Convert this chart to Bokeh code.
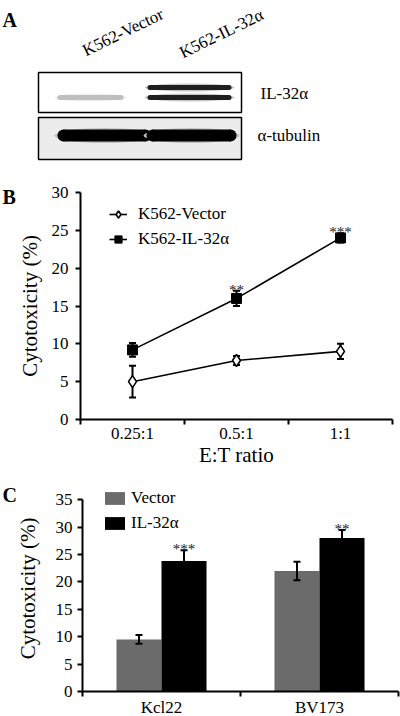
from bokeh.plotting import figure
from bokeh.models import (Range1d, FixedTicker, Whisker, TeeHead, ColumnDataSource,
                          Legend, LegendItem)
from bokeh.embed import file_html
from bokeh.resources import INLINE
from bokeh.core.properties import value

FONT = "Liberation Serif, serif"

# ---------------- data ----------------
# Panel A (western blot, band intensities 0..1 per lane)
lanes = ["K562-Vector", "K562-IL-32α"]
blot_rows = ["IL-32α", "α-tubulin"]
il32_upper = [0.0, 0.88]
il32_lower = [0.25, 0.88]
tubulin = [1.0, 1.0]

# Panel B
ratios = ["0.25:1", "0.5:1", "1:1"]
b_yticks = [0, 5, 10, 15, 20, 25, 30]
b_vector = [5.0, 7.8, 9.0]
b_vector_err = [2.1, 0.6, 1.0]
b_il32 = [9.2, 16.0, 24.0]
b_il32_err = [0.9, 1.0, 0.6]
b_sig = ["", "**", "***"]
b_names = ["K562-Vector", "K562-IL-32α"]

# Panel C
cells = ["Kcl22", "BV173"]
c_yticks = [0, 5, 10, 15, 20, 25, 30, 35]
c_vector = [9.5, 22.0]
c_vector_err = [0.8, 1.7]
c_il32 = [23.8, 28.0]
c_il32_err = [2.0, 1.5]
c_sig = ["***", "**"]
c_names = ["Vector", "IL-32α"]


def gray(v):
    g = int(round(255 * (1 - v)))
    return "#%02x%02x%02x" % (g, g, g)


# ---------------- Panel A ----------------
pa = figure(width=400, height=163, x_range=Range1d(0, 400), y_range=Range1d(0, 163),
            output_backend="svg", toolbar_location=None, min_border=0,
            x_axis_location=None, y_axis_location=None)
pa.grid.visible = False
pa.outline_line_color = None

pa.quad(left=[38], right=[241], bottom=[51], top=[91], fill_color="white",
        line_color="black", line_width=1.5)
pa.quad(left=[38], right=[241], bottom=[4], top=[46], fill_color="#ececec",
        line_color="black", line_width=1.5)


def draw_band(xs, y, ws, h, vals):
    for xc, w, v in zip(xs, ws, vals):
        if v <= 0:
            continue
        pa.ellipse(x=[xc], y=[y], width=[w + 6], height=[h + 3],
                   fill_color=gray(v * 0.25), line_color=None)
        pa.rect(x=[xc], y=[y], width=[w - h], height=[h], fill_color=gray(v),
                line_color=None)
        pa.ellipse(x=[xc - (w - h) / 2, xc + (w - h) / 2], y=[y, y], width=[h, h],
                   height=[h, h], fill_color=gray(v), line_color=None)


draw_band([90, 189], 76, [66, 84], 5, il32_upper)
draw_band([90, 189], 66, [66, 84], 5, il32_lower)
draw_band([104, 191], 28, [94, 90], 12, tubulin)

pa.text(x=[83, 180], y=[112, 110], text=lanes, angle=26, angle_units="deg",
        text_font=value(FONT), text_font_size="17px", text_align="left",
        text_baseline="alphabetic", text_color="black")
pa.text(x=[260, 257], y=[70, 28], text=blot_rows, text_font=value(FONT),
        text_font_size="17px", text_align="left", text_baseline="middle",
        text_color="black")
pa.text(x=[2], y=[144], text=["A"], text_font=value(FONT), text_font_size="20px",
        text_font_style="bold", text_align="left", text_baseline="alphabetic",
        text_color="black")


def style_axes(p):
    p.grid.visible = False
    p.outline_line_color = None
    for ax in p.axis:
        ax.axis_line_width = 2
        ax.axis_line_color = "black"
        ax.major_tick_line_color = "black"
        ax.major_tick_line_width = 2
        ax.minor_tick_line_color = "black"
        ax.minor_tick_line_width = 2
        ax.major_label_text_font = FONT
        ax.major_label_text_font_size = "17px"
        ax.major_label_text_color = "black"
        ax.axis_label_text_font = FONT
        ax.axis_label_text_font_size = "21px"
        ax.axis_label_text_font_style = "normal"
        ax.axis_label_text_color = "black"


def panel_letter(p, letter, offset, standoff):
    p.title.text = letter
    p.title.align = "left"
    p.title.offset = offset
    p.title.standoff = standoff
    p.title.text_font = FONT
    p.title.text_font_size = "20px"
    p.title.text_font_style = "bold"
    p.title.text_color = "black"


# ---------------- Panel B ----------------
pb = figure(frame_width=312, frame_height=227, min_border_left=80, min_border_right=8,
            min_border_top=29, min_border_bottom=0,
            x_range=Range1d(0, len(ratios)), y_range=Range1d(0, 30),
            output_backend="svg", toolbar_location=None)
style_axes(pb)
panel_letter(pb, "B", -78, -30)
bx = [i + 0.5 for i in range(len(ratios))]
src_b = ColumnDataSource(dict(
    x=bx, vec=b_vector,
    vec_lo=[v - e for v, e in zip(b_vector, b_vector_err)],
    vec_hi=[v + e for v, e in zip(b_vector, b_vector_err)],
    il=b_il32,
    il_lo=[v - e for v, e in zip(b_il32, b_il32_err)],
    il_hi=[v + e for v, e in zip(b_il32, b_il32_err)],
    sig=b_sig))

pb.xaxis.ticker = FixedTicker(ticks=bx, minor_ticks=list(range(len(ratios) + 1)))
pb.xaxis.major_label_overrides = {x: lab for x, lab in zip(bx, ratios)}
pb.xaxis.major_tick_out = 0
pb.xaxis.major_tick_in = 0
pb.xaxis.minor_tick_out = 5
pb.xaxis.minor_tick_in = 0
pb.xaxis.major_label_standoff = -1
pb.xaxis.axis_label = "E:T ratio"
pb.xaxis.axis_label_standoff = -3
pb.yaxis.ticker = FixedTicker(ticks=b_yticks, minor_ticks=[])
pb.yaxis.major_tick_out = 5
pb.yaxis.major_tick_in = 0
pb.yaxis.major_label_standoff = 7
pb.yaxis.axis_label = "Cytotoxicity (%)"
pb.yaxis.axis_label_standoff = 7

for lo, hi in (("vec_lo", "vec_hi"), ("il_lo", "il_hi")):
    pb.add_layout(Whisker(source=src_b, base="x", lower=lo, upper=hi,
                          line_width=2, line_color="black",
                          upper_head=TeeHead(size=7, line_width=2, line_color="black"),
                          lower_head=TeeHead(size=7, line_width=2, line_color="black")))

l_vec = pb.line("x", "vec", source=src_b, line_color="black", line_width=1.6)
l_il = pb.line("x", "il", source=src_b, line_color="black", line_width=1.6)
m_vec = pb.scatter("x", "vec", source=src_b, marker="diamond", size=12,
                   fill_color="white", line_color="black", line_width=1.6)
m_il = pb.scatter("x", "il", source=src_b, marker="square", size=10,
                  fill_color="black", line_color="black", line_width=1)
pb.text("x", "il_hi", text="sig", source=src_b, text_font=value(FONT),
        text_font_size="15px", text_align="center", text_baseline="alphabetic",
        y_offset=-1, text_color="#222222")

leg_b = Legend(items=[LegendItem(label=b_names[0], renderers=[l_vec, m_vec]),
                      LegendItem(label=b_names[1], renderers=[l_il, m_il])],
               location=(29, 170), border_line_color=None, background_fill_alpha=0,
               padding=0, margin=0, spacing=5, glyph_width=18, glyph_height=20,
               label_height=20, label_standoff=11, label_text_font=FONT,
               label_text_font_size="17px", label_text_color="black")
pb.add_layout(leg_b, "center")

# ---------------- Panel C ----------------
pc = figure(frame_width=316, frame_height=206, min_border_left=82, min_border_right=2,
            min_border_top=16, min_border_bottom=0,
            x_range=Range1d(0, len(cells)), y_range=Range1d(0, 37.6),
            output_backend="svg", toolbar_location=None)
style_axes(pc)
panel_letter(pc, "C", -80, -40)
bw = 0.285
cx = [i + 0.5 for i in range(len(cells))]
src_c = ColumnDataSource(dict(
    x=cx, xv=[x - bw / 2 for x in cx], xi=[x + bw / 2 for x in cx],
    vec=c_vector,
    vec_lo=[v - e for v, e in zip(c_vector, c_vector_err)],
    vec_hi=[v + e for v, e in zip(c_vector, c_vector_err)],
    il=c_il32,
    il_lo=[v - e for v, e in zip(c_il32, c_il32_err)],
    il_hi=[v + e for v, e in zip(c_il32, c_il32_err)],
    sig=c_sig))

pc.xaxis.ticker = FixedTicker(ticks=cx, minor_ticks=list(range(len(cells) + 1)))
pc.xaxis.major_label_overrides = {x: lab for x, lab in zip(cx, cells)}
pc.xaxis.major_tick_out = 0
pc.xaxis.major_tick_in = 0
pc.xaxis.minor_tick_out = 5
pc.xaxis.minor_tick_in = 0
pc.xaxis.major_label_standoff = 1
pc.yaxis.ticker = FixedTicker(ticks=c_yticks, minor_ticks=[])
pc.yaxis.bounds = (c_yticks[0], c_yticks[-1])
pc.yaxis.major_tick_out = 5
pc.yaxis.major_tick_in = 0
pc.yaxis.major_label_standoff = 5
pc.yaxis.axis_label = "Cytotoxicity (%)"
pc.yaxis.axis_label_standoff = 13

b_vec = pc.vbar(x="xv", top="vec", width=bw, source=src_c, fill_color="#6b6b6b",
                line_color=None)
b_il = pc.vbar(x="xi", top="il", width=bw, source=src_c, fill_color="black",
               line_color=None)
for base, lo, hi in (("xv", "vec_lo", "vec_hi"), ("xi", "il_lo", "il_hi")):
    pc.add_layout(Whisker(source=src_c, base=base, lower=lo, upper=hi,
                          line_width=2, line_color="black", level="glyph",
                          upper_head=TeeHead(size=7, line_width=2, line_color="black"),
                          lower_head=TeeHead(size=7, line_width=2, line_color="black")))
pc.text("xi", "il_hi", text="sig", source=src_c, text_font=value(FONT),
        text_font_size="15px", text_align="center", text_baseline="alphabetic",
        y_offset=-1, text_color="#222222")

leg_c = Legend(items=[LegendItem(label=c_names[0], renderers=[b_vec]),
                      LegendItem(label=c_names[1], renderers=[b_il])],
               location=(20, 158), border_line_color=None, background_fill_alpha=0,
               padding=0, margin=0, spacing=5, glyph_width=25, glyph_height=16,
               label_height=20, label_standoff=4, label_text_font=FONT,
               label_text_font_size="17px", label_text_color="black")
pc.add_layout(leg_c, "center")

open("out.html", "w").write(file_html([pa, pb, pc], INLINE))
